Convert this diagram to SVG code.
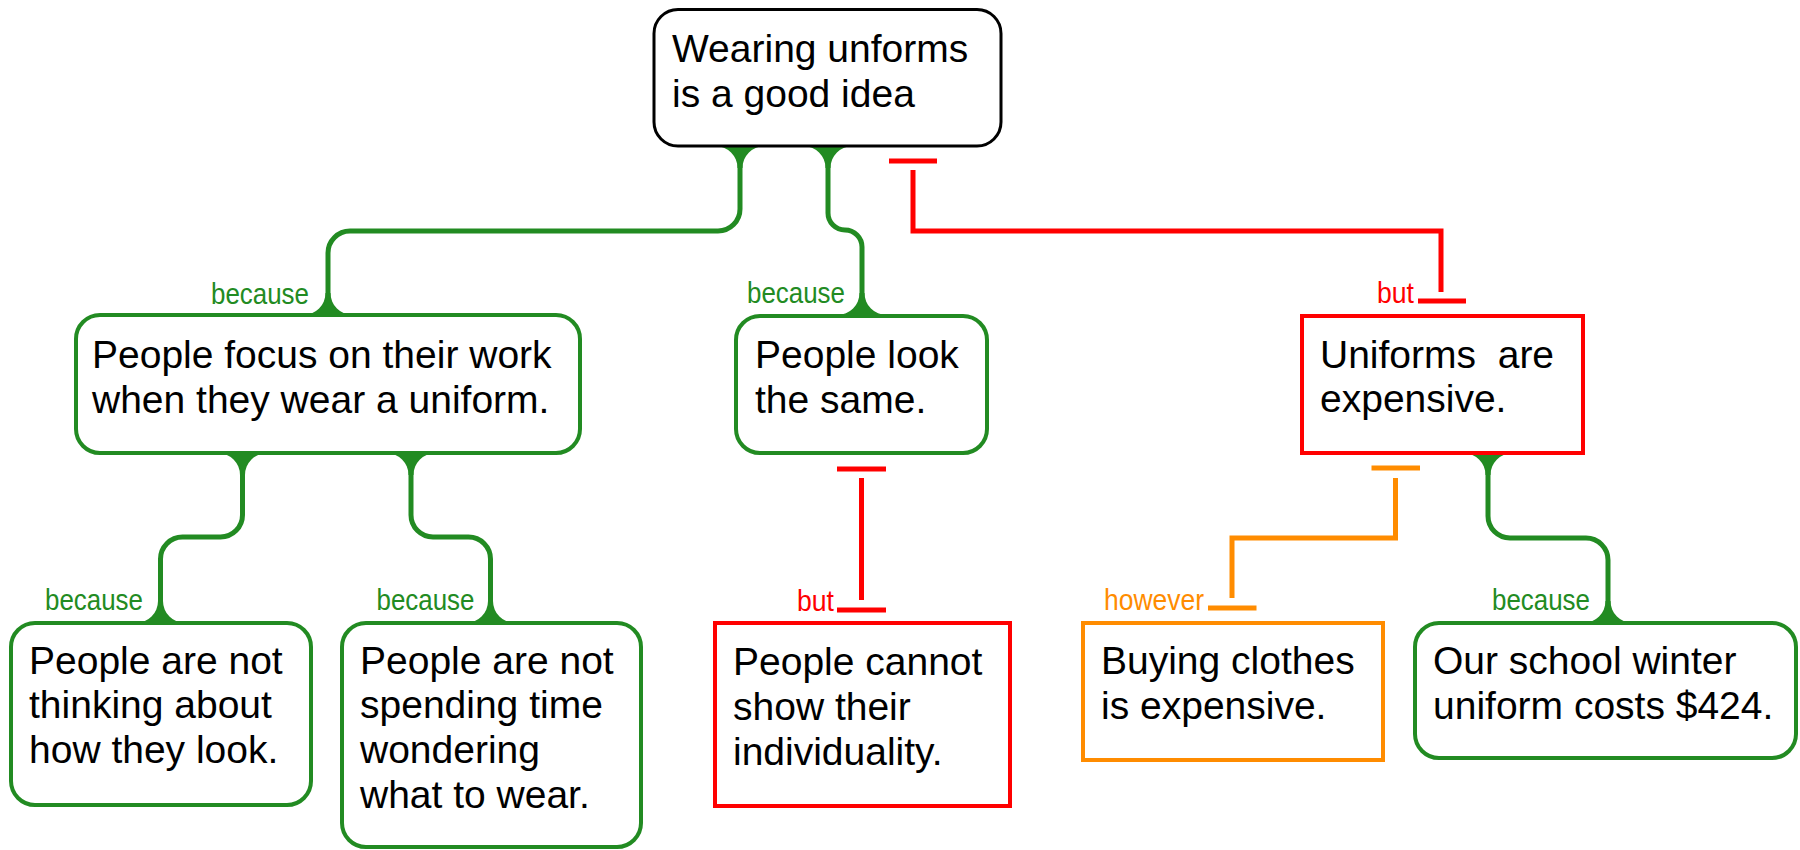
<svg xmlns="http://www.w3.org/2000/svg" xmlns:xlink="http://www.w3.org/1999/xlink" width="1800" height="850" viewBox="0 0 1800 850">
<style>
  .node { fill: #ffffff; stroke-width: 4; }
  .g { stroke: #228B22; }
  .r { stroke: #FF0000; }
  .o { stroke: #FF8C00; }
  .k { stroke: #000000; stroke-width: 3; }
  .t { font-family: "Liberation Sans", Arial, sans-serif; font-size: 39px; fill: #000000; white-space: pre; }
  .lbl { font-family: "Liberation Sans", Arial, sans-serif; font-size: 29px; text-anchor: end; }
  .line { fill: none; stroke-width: 5; }
  .lg { fill: #228B22; }
  .lr { fill: #FF0000; }
  .lo { fill: #FF8C00; }
</style>
<defs>
  <path id="flare" d="M -24.5,0 A 22 22 0 0 1 -2.5,22 L 2.5,22 A 22 22 0 0 1 24.5,0 Z" fill="#228B22"/>
</defs>
<rect width="1800" height="850" fill="#ffffff"/>

<g id="connectors">
  <!-- top -> A -->
  <path class="line g" d="M 740,146 V 209 A 22 22 0 0 1 718,231 H 350 A 22 22 0 0 0 328,253 V 315"/>
  <use xlink:href="#flare" href="#flare" transform="translate(740,146)"/>
  <use xlink:href="#flare" href="#flare" transform="translate(328,315) scale(1,-1)"/>
  <text class="lbl lg" x="309" y="304" textLength="98" lengthAdjust="spacingAndGlyphs">because</text>

  <!-- top -> B -->
  <path class="line g" d="M 828,146 V 213 A 17 17 0 0 0 845,230 A 17 17 0 0 1 862,247 V 315"/>
  <use xlink:href="#flare" href="#flare" transform="translate(828,146)"/>
  <use xlink:href="#flare" href="#flare" transform="translate(862,315) scale(1,-1)"/>
  <text class="lbl lg" x="845" y="303" textLength="98" lengthAdjust="spacingAndGlyphs">because</text>

  <!-- C -> top (but) -->
  <path class="line r" d="M 889,161 H 937"/>
  <path class="line r" d="M 913,170 V 231 H 1441 V 292"/>
  <path class="line r" d="M 1418,301 H 1466"/>
  <text class="lbl lr" x="1414" y="303" textLength="37" lengthAdjust="spacingAndGlyphs">but</text>

  <!-- A -> D -->
  <path class="line g" d="M 242.5,453 V 515 A 22 22 0 0 1 220.5,537 H 182.5 A 22 22 0 0 0 160.5,559 V 623"/>
  <use xlink:href="#flare" href="#flare" transform="translate(242.5,453)"/>
  <use xlink:href="#flare" href="#flare" transform="translate(160.5,623) scale(1,-1)"/>
  <text class="lbl lg" x="143" y="610" textLength="98" lengthAdjust="spacingAndGlyphs">because</text>

  <!-- A -> E -->
  <path class="line g" d="M 411,453 V 515 A 22 22 0 0 0 433,537 H 468.5 A 22 22 0 0 1 490.5,559 V 623"/>
  <use xlink:href="#flare" href="#flare" transform="translate(411,453)"/>
  <use xlink:href="#flare" href="#flare" transform="translate(490.5,623) scale(1,-1)"/>
  <text class="lbl lg" x="474.5" y="610" textLength="98" lengthAdjust="spacingAndGlyphs">because</text>

  <!-- F -> B (but) -->
  <path class="line r" d="M 837,469 H 886"/>
  <path class="line r" d="M 861.5,478 V 600"/>
  <path class="line r" d="M 837,610 H 886"/>
  <text class="lbl lr" x="834" y="611" textLength="37" lengthAdjust="spacingAndGlyphs">but</text>

  <!-- G -> C (however) -->
  <path class="line o" d="M 1371.5,468 H 1420"/>
  <path class="line o" d="M 1395.5,478 V 538 H 1232 V 598"/>
  <path class="line o" d="M 1208,608 H 1256.5"/>
  <text class="lbl lo" x="1204" y="610" textLength="100" lengthAdjust="spacingAndGlyphs">however</text>

  <!-- C -> H -->
  <path class="line g" d="M 1488,453 V 516 A 22 22 0 0 0 1510,538 H 1586 A 22 22 0 0 1 1608,560 V 623"/>
  <use xlink:href="#flare" href="#flare" transform="translate(1488,453)"/>
  <use xlink:href="#flare" href="#flare" transform="translate(1608,623) scale(1,-1)"/>
  <text class="lbl lg" x="1590" y="610" textLength="98" lengthAdjust="spacingAndGlyphs">because</text>
</g>

<g id="node-top">
  <rect class="node k" x="654" y="9.5" width="347" height="136.5" rx="24"/>
  <text class="t" x="672" y="62">Wearing unforms</text>
  <text class="t" x="672" y="107">is a good idea</text>
</g>

<g id="node-focus">
  <rect class="node g" x="76" y="315" width="504" height="138" rx="24"/>
  <text class="t" x="92" y="368">People focus on their work</text>
  <text class="t" x="92" y="413">when they wear a uniform.</text>
</g>

<g id="node-look-same">
  <rect class="node g" x="736" y="316" width="251" height="137" rx="24"/>
  <text class="t" x="755" y="368">People look</text>
  <text class="t" x="755" y="413">the same.</text>
</g>

<g id="node-expensive">
  <rect class="node r" x="1302" y="316" width="281" height="137"/>
  <text class="t" x="1320" y="368">Uniforms  are</text>
  <text class="t" x="1320" y="412">expensive.</text>
</g>

<g id="node-not-thinking">
  <rect class="node g" x="11" y="623" width="300" height="182" rx="24"/>
  <text class="t" x="29" y="674">People are not</text>
  <text class="t" x="29" y="718">thinking about</text>
  <text class="t" x="29" y="763">how they look.</text>
</g>

<g id="node-not-spending">
  <rect class="node g" x="342" y="623" width="299" height="224" rx="24"/>
  <text class="t" x="360" y="674">People are not</text>
  <text class="t" x="360" y="718">spending time</text>
  <text class="t" x="360" y="763">wondering</text>
  <text class="t" x="360" y="808">what to wear.</text>
</g>

<g id="node-individuality">
  <rect class="node r" x="715" y="623" width="295" height="183"/>
  <text class="t" x="733" y="675">People cannot</text>
  <text class="t" x="733" y="720">show their</text>
  <text class="t" x="733" y="765">individuality.</text>
</g>

<g id="node-buying">
  <rect class="node o" x="1083" y="623" width="300" height="137"/>
  <text class="t" x="1101" y="674">Buying clothes</text>
  <text class="t" x="1101" y="719">is expensive.</text>
</g>

<g id="node-cost">
  <rect class="node g" x="1415" y="623" width="381" height="135" rx="24"/>
  <text class="t" x="1433" y="674">Our school winter</text>
  <text class="t" x="1433" y="719">uniform costs $424.</text>
</g>
</svg>
